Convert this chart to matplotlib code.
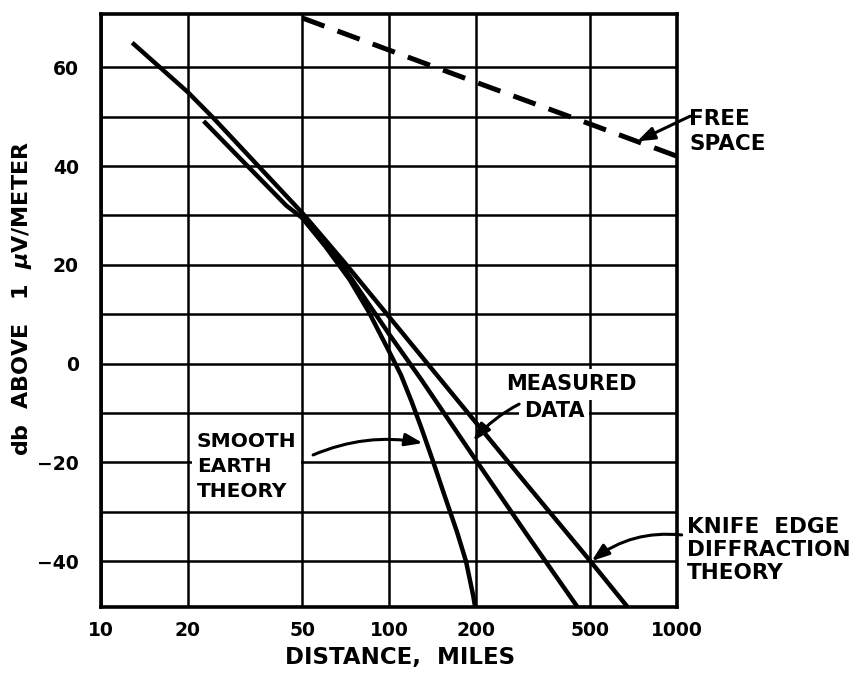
import matplotlib.pyplot as plt
from matplotlib.ticker import FixedLocator, FixedFormatter, NullFormatter

plt.rcParams['font.family'] = 'DejaVu Sans'
plt.rcParams['font.weight'] = 'bold'
plt.rcParams['lines.scale_dashes'] = False

# free space field (dashed)
free_dist = [50, 100, 200, 500, 1000]
free_db = [70, 63.5, 57, 48.5, 42]

# knife edge diffraction theory
knife_dist = [13, 20, 24.5, 50, 70, 100, 140, 200, 300, 500, 680]
knife_db = [64.7, 55, 49.8, 30.5, 20.5, 9.5, -0.9, -11.9, -24.4, -40, -49.6]

# measured data
meas_dist = [23, 30, 44, 50, 70, 100, 130, 200, 300, 460]
meas_db = [48.8, 41.9, 32, 29.5, 19.3, 6, -3.4, -19.5, -34.5, -50]

# smooth earth theory
smooth_dist = [50, 60, 73, 85, 100, 110, 120, 130, 142, 155, 172, 185, 196, 200]
smooth_db = [29.5, 23.8, 17, 10.5, 2.5, -2.3, -7.8, -13.3, -19.7, -26.3, -34, -40, -47, -50]

x_ticks = [10, 20, 50, 100, 200, 500, 1000]
x_labels = ['10', '20', '50', '100', '200', '500', '1000']
y_ticks = [-40, -20, 0, 20, 40, 60]
y_labels = ['\u221240', '\u221220', '0', '20', '40', '60']
y_minor = [-30, -10, 10, 30, 50]

fig = plt.figure(figsize=(8.62, 6.78), dpi=100)
ax = fig.add_axes([0.1172, 0.1047, 0.6682, 0.8746])

ax.plot(knife_dist, knife_db, color='black', lw=3.2, zorder=3)
ax.plot(meas_dist, meas_db, color='black', lw=3.2, zorder=3)
ax.plot(smooth_dist, smooth_db, color='black', lw=3.2, zorder=3)
ax.plot(free_dist, free_db, color='black', lw=3.6, dashes=(17, 10), zorder=3)

ax.set_xscale('log')
ax.set_xlim(10, 1000)
ax.set_ylim(-49.3, 70.8)

ax.xaxis.set_major_locator(FixedLocator(x_ticks))
ax.xaxis.set_major_formatter(FixedFormatter(x_labels))
ax.xaxis.set_minor_locator(FixedLocator([]))
ax.xaxis.set_minor_formatter(NullFormatter())
ax.yaxis.set_major_locator(FixedLocator(y_ticks))
ax.yaxis.set_major_formatter(FixedFormatter(y_labels))
ax.yaxis.set_minor_locator(FixedLocator(y_minor))

ax.grid(True, which='both', color='black', lw=1.8)
ax.set_axisbelow(True)
ax.tick_params(which='both', length=0, labelsize=13.5)
ax.tick_params(axis='x', pad=10)
ax.tick_params(axis='y', pad=16)
for s in ax.spines.values():
    s.set_linewidth(2.6)

ax.set_xlabel('DISTANCE,  MILES', fontsize=16.5, fontweight='bold')
ax.xaxis.set_label_coords(0.519, -0.066)
ax.set_ylabel(r'db  ABOVE   1  $\mu$V/METER', fontsize=16, fontweight='bold')
ax.yaxis.set_label_coords(-0.116, 0.52)

white = dict(boxstyle='square,pad=0.25', fc='white', ec='none')
ax.text(21.5, -20.9, 'SMOOTH\nEARTH\nTHEORY', fontsize=14.5, ha='left', va='center',
        linespacing=1.4, bbox=white, zorder=4)
ax.text(431, -4.2, 'MEASURED', fontsize=15, ha='center', va='center', bbox=white, zorder=4)
ax.text(374, -9.5, 'DATA', fontsize=15, ha='center', va='center', bbox=white, zorder=4)
ax.text(1102, 47.0, 'FREE\nSPACE', fontsize=15.5, ha='left', va='center', linespacing=1.3)
ax.text(1084, -37.8, 'KNIFE  EDGE\nDIFFRACTION\nTHEORY', fontsize=15.5, ha='left', va='center',
        linespacing=1.2)

arrow = dict(arrowstyle='-|>,head_length=0.7,head_width=0.25', color='black', lw=2.2,
             shrinkA=0, shrinkB=0)
ax.annotate('', xy=(726, 45.0), xytext=(1109, 50.1), annotation_clip=False,
            arrowprops=dict(arrow, connectionstyle='arc3,rad=0'), fontsize=15)
ax.annotate('', xy=(131, -16.1), xytext=(54.5, -18.5),
            arrowprops=dict(arrow, connectionstyle='arc3,rad=-0.15'), fontsize=15, zorder=5)
ax.annotate('', xy=(196, -15.7), xytext=(283, -8.2),
            arrowprops=dict(arrow, connectionstyle='arc3,rad=0.1'), fontsize=15, zorder=5)
ax.annotate('', xy=(505, -40), xytext=(1038, -34.7), annotation_clip=False,
            arrowprops=dict(arrow, connectionstyle='arc3,rad=0.2'), fontsize=15)

fig.savefig('out.png', dpi=100)
